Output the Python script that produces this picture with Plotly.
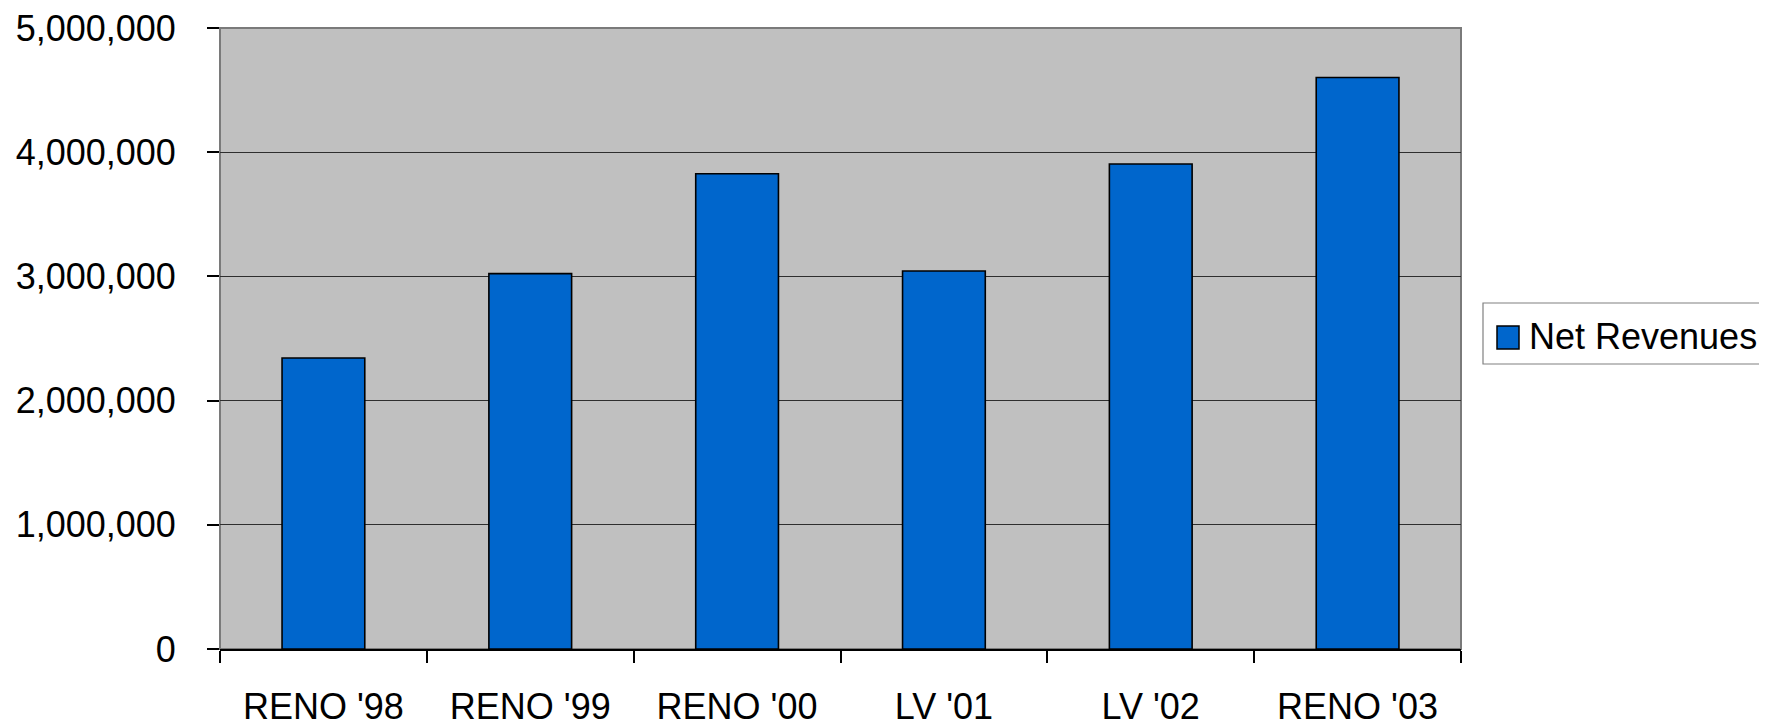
import plotly.graph_objects as go

categories = ["RENO '98", "RENO '99", "RENO '00", "LV '01", "LV '02", "RENO '03"]
net_revenues = [2343000, 3022000, 3827000, 3043000, 3905000, 4602000]
series_name = "Net Revenues"
y_ticks = [0, 1000000, 2000000, 3000000, 4000000, 5000000]

# The page body has an 8px default margin; size the figure to fit the viewport.
OFF = 8
W, H = 1767 - OFF, 726 - OFF
L, T = 220 - OFF, 28 - OFF
R = W - (1461 - OFF)
B = H - (649 - OFF)
PW, PH = W - L - R, H - T - B

def px_x(page_px):
    return (page_px - OFF - L) / PW

def px_y(page_py):
    return (H - B - (page_py - OFF)) / PH

FONT = "Liberation Sans, Arial, sans-serif"
FS = 36
BAR_COLOR = "#0066CC"

fig = go.Figure()
fig.add_trace(go.Bar(
    x=categories, y=net_revenues, name=series_name,
    marker=dict(color=BAR_COLOR, line=dict(color="black", width=1.6)),
    showlegend=False,
))

fig.update_layout(
    width=W, height=H,
    margin=dict(l=L, r=R, t=T, b=B, pad=0, autoexpand=False),
    paper_bgcolor="white",
    plot_bgcolor="#C0C0C0",
    bargap=0.6,
    font=dict(family=FONT, size=FS, color="black"),
    showlegend=False,
    xaxis=dict(
        type="category", tickson="boundaries", automargin=False,
        ticks="outside", ticklen=12, tickwidth=1.5, tickcolor="black",
        showline=True, linecolor="black", linewidth=1.5,
        showgrid=False, zeroline=False,
        tickfont=dict(family=FONT, size=FS, color="black"),
        ticklabelstandoff=25, ticklabeloverflow="allow",
    ),
    yaxis=dict(
        range=[0, 5000000], tickvals=y_ticks, tickformat=",d", automargin=False,
        ticks="outside", ticklen=12, tickwidth=1.5, tickcolor="black",
        showline=False,
        showgrid=True, gridcolor="#2e2e2e", gridwidth=1.2,
        zeroline=False,
        tickfont=dict(family=FONT, size=FS, color="black"),
        ticklabelstandoff=24, ticklabeloverflow="allow",
    ),
    shapes=[
        dict(type="rect", xref="paper", yref="paper", x0=0, x1=1, y0=0, y1=1,
             line=dict(color="#7a7a7a", width=2), layer="below"),
        dict(type="rect", xref="paper", yref="paper",
             x0=px_x(1483), x1=px_x(1764), y0=px_y(364), y1=px_y(303),
             line=dict(color="#808080", width=1.2), fillcolor="white", layer="above"),
        dict(type="rect", xref="paper", yref="paper",
             x0=px_x(1497), x1=px_x(1519), y0=px_y(349), y1=px_y(326),
             line=dict(color="black", width=1.5), fillcolor=BAR_COLOR, layer="above"),
    ],
    annotations=[
        dict(text=series_name, xref="paper", yref="paper",
             x=px_x(1527), y=px_y(336), xanchor="left", yanchor="middle",
             showarrow=False, font=dict(family=FONT, size=FS, color="black")),
    ],
)

fig.write_html("out.html")
